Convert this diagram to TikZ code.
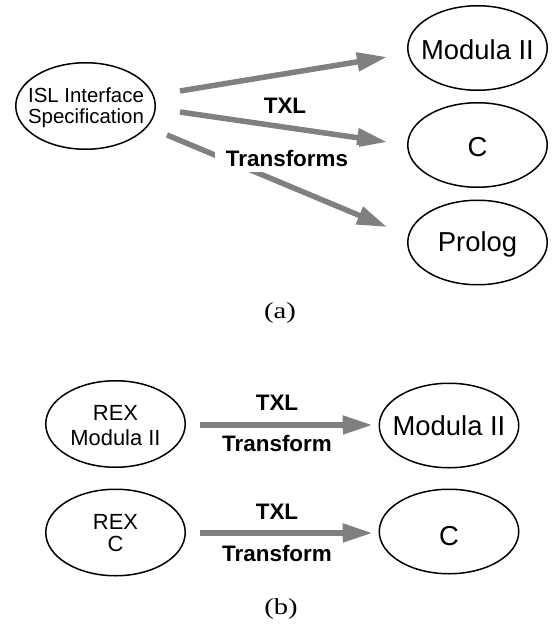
\documentclass[tikz,border=0pt]{standalone}
\usepackage{fontspec}
\setmainfont{Liberation Sans}
\newfontfamily\capfont{Liberation Serif}[FakeStretch=1.25]
\usetikzlibrary{shapes.geometric,arrows.meta,calc}
\definecolor{arrgray}{RGB}{128,128,128}
\tikzset{
  oval/.style={ellipse, draw=black, line width=1.5bp, inner sep=0pt,
    minimum width=139.5bp, minimum height=86.5bp},
  bigoval/.style={oval, minimum height=84.5bp},
  txt/.style={anchor=base, inner sep=0pt},
  bigtxt/.style={txt, font=\fontsize{27.5}{30}\selectfont},
  midtxt/.style={txt, font=\fontsize{22}{24}\selectfont},
  conn/.style={draw=arrgray, line width=5.5bp,
    -{Triangle[length=30bp,width=18bp]}, arrgray},
  lbl/.style={anchor=base, font=\bfseries\fontsize{22.5}{26}\selectfont, fill=white,
    inner xsep=11bp, inner ysep=5bp},
  caption/.style={anchor=base, inner sep=0pt, font=\capfont\fontsize{23}{26}\selectfont}
}
\begin{document}
\begin{tikzpicture}[x=1bp,y=-1bp]
\useasboundingbox (0,0) rectangle (552,628);
% (a)
\node[oval] (isl) at (85.5,106) {};
\node[txt, font=\fontsize{20.5}{21}\selectfont] (isl1) at (86,102.3) {ISL Interface};
\node[txt, font=\fontsize{20.5}{21}\selectfont] (isl2) at (86,123.3) {Specification};
\node[bigoval] (m1) at (477.5,48) {};
\node[bigtxt] (m1t) at (477.5,60) {Modula II};
\node[bigoval] (c1) at (477.5,145) {};
\node[bigtxt] (c1t) at (477.5,156.5) {C};
\node[bigoval] (p1) at (477.5,242.5) {};
\node[bigtxt] (p1t) at (477.5,251.5) {Prolog};
\draw[conn] ($(isl.east)+(24,-15)$) -- ($(m1.west)+(-20,9)$);
\draw[conn] ($(isl.east)+(24,6)$) -- ($(c1.west)+(-20,-3)$);
\draw[conn] ($(isl.east)+(11,29)$) -- ($(p1.west)+(-20,-15.5)$);
\node[lbl] (txla) at (285,113.3) {TXL};
\node[lbl] (trfa) at (287,166.7) {Transforms};
\node[caption] (capa) at (280,318) {(a)};
% (b)
\node[oval] (rex1) at (115.5,424) {};
\node[midtxt] (rex1a) at (115.5,420) {REX};
\node[midtxt] (rex1b) at (115.5,445) {Modula II};
\node[bigoval] (m2) at (449,425.5) {};
\node[bigtxt] (m2t) at (449,435) {Modula II};
\node[oval] (rex2) at (115.5,532.5) {};
\node[midtxt] (rex2a) at (115.5,529.3) {REX};
\node[midtxt] (rex2b) at (115.5,551.5) {C};
\node[bigoval] (c2) at (449,531.5) {};
\node[bigtxt] (c2t) at (449,545) {C};
\draw[conn] ($(rex1.east)+(14,1)$) -- ($(m2.west)+(-6,-0.5)$);
\draw[conn] ($(rex2.east)+(14,0.5)$) -- ($(c2.west)+(-6,1.5)$);
\node[lbl] (txlb) at (277,410.7) {TXL};
\node[lbl] (trfb) at (277,451) {Transform};
\node[lbl] (txlc) at (277,519.3) {TXL};
\node[lbl] (trfc) at (277,561.7) {Transform};
\node[caption] (capb) at (281,614.3) {(b)};
\end{tikzpicture}
\end{document}
